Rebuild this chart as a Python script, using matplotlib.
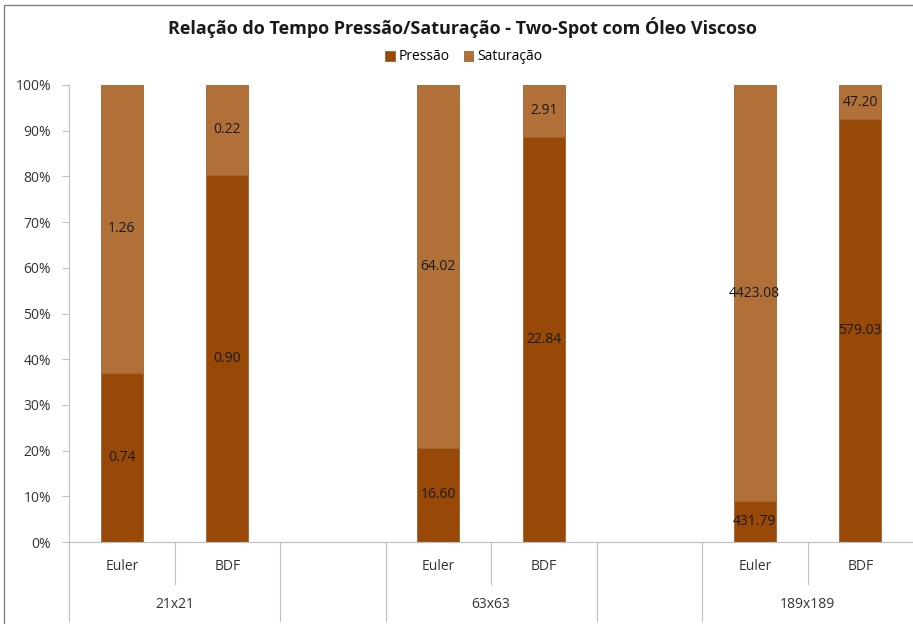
import matplotlib.pyplot as plt
import matplotlib.transforms as mtransforms
from matplotlib.patches import Rectangle

plt.rc('font', family=['Open Sans', 'DejaVu Sans'])

# slots: Euler, BDF, blank, Euler, BDF, blank, Euler, BDF
methods = ['Euler', 'BDF', '', 'Euler', 'BDF', '', 'Euler', 'BDF']
groups = ['21x21', '63x63', '189x189']
pressao = [0.74, 0.90, None, 16.60, 22.84, None, 431.79, 579.03]
saturacao = [1.26, 0.22, None, 64.02, 2.91, None, 4423.08, 47.20]

c_pres = '#984807'
c_sat = '#B07038'

fig = plt.figure(figsize=(9.13, 6.24), dpi=100)
ax = fig.add_axes([69/913, (624-542)/624, (913-69)/913, (542-85)/624])

xs = [i for i, p in enumerate(pressao) if p is not None]
p_frac = [pressao[i] / (pressao[i] + saturacao[i]) for i in xs]
s_frac = [saturacao[i] / (pressao[i] + saturacao[i]) for i in xs]

bw = 0.4
ax.bar(xs, p_frac, width=bw, color=c_pres, edgecolor='#A0622E', lw=0.6, label='Pressão')
ax.bar(xs, s_frac, width=bw, bottom=p_frac, color=c_sat, edgecolor='#A0622E', lw=0.6, label='Saturação')

for x, pf, sf in zip(xs, p_frac, s_frac):
    ax.text(x, pf / 2, '%.2f' % pressao[x], ha='center', va='center', fontsize=10, color='#1a1a1a')
    ax.text(x, pf + sf / 2, '%.2f' % saturacao[x], ha='center', va='center', fontsize=10, color='#1a1a1a')

ax.set_xlim(-0.5, 7.5)
ax.set_ylim(0, 1)
ax.set_yticks([i / 10 for i in range(11)])
ax.set_yticklabels(['%d%%' % (i * 10) for i in range(11)], fontsize=10, color='#333333')
ax.tick_params(axis='y', length=5, color='#BFBFBF', pad=8)
ax.set_xticks([])
for s in ['top', 'right']:
    ax.spines[s].set_visible(False)
ax.spines['left'].set_color('#BFBFBF')
ax.spines['bottom'].set_color('#BFBFBF')

# two-level category axis
trans = mtransforms.blended_transform_factory(ax.transData, fig.transFigure)
y0 = (624 - 542) / 624
y_short = (624 - 584) / 624
y_long = (624 - 621) / 624
for i, m in enumerate(methods):
    if m:
        ax.text(i, (624 - 566) / 624, m, transform=trans, ha='center', va='center', fontsize=10, color='#333333')
for b in [0.5, 3.5, 6.5]:
    ax.plot([b, b], [y0, y_short], transform=trans, color='#BFBFBF', lw=0.8, clip_on=False)
for b in [-0.5, 1.5, 2.5, 4.5, 5.5]:
    ax.plot([b, b], [y0, y_long], transform=trans, color='#BFBFBF', lw=0.8, clip_on=False)
for g, c in zip(groups, [0.5, 3.5, 6.5]):
    ax.text(c, (624 - 604) / 624, g, transform=trans, ha='center', va='center', fontsize=10, color='#333333')

fig.text(0.507, (624 - 27) / 624, 'Relação do Tempo Pressão/Saturação - Two-Spot com Óleo Viscoso',
         ha='center', va='center', fontsize=13, fontweight='bold', color='#1a1a1a')
fig.legend(loc='center', bbox_to_anchor=(0.508, (624 - 57) / 624), ncol=2, frameon=False,
           fontsize=10, handlelength=0.7, handleheight=0.7, handletextpad=0.3, columnspacing=1.0)

fig.patches.append(Rectangle((4/913, -0.05), 1.1, (624 - 5) / 624 + 0.05, transform=fig.transFigure,
                             fill=False, edgecolor='#808080', lw=1))

fig.savefig('out.png', dpi=100)
